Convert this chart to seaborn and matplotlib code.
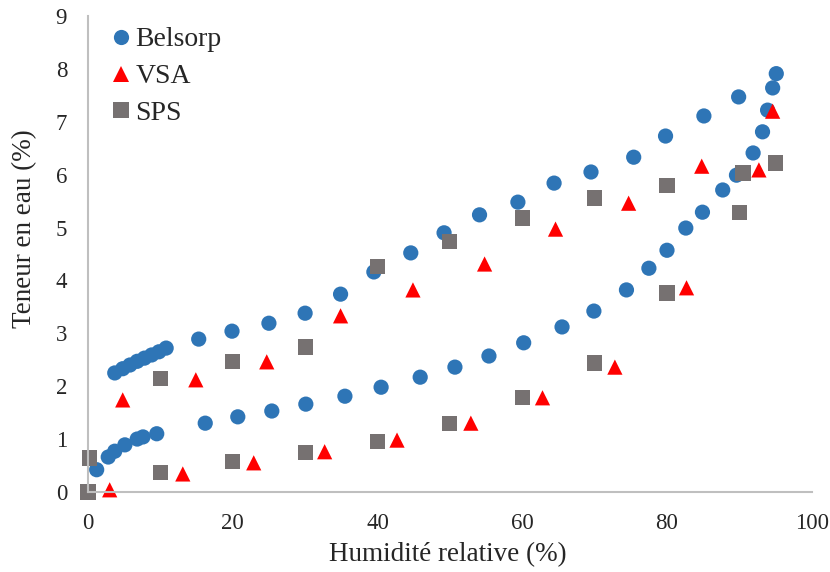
import pandas as pd
import numpy as np
from matplotlib import pyplot as plt
import seaborn as sns

# Belsorp: adsorption branch then desorption branch
belsorp_x = [1.2, 2.8, 3.7, 5.1, 6.8, 7.6, 9.5, 16.2, 20.7, 25.4, 30.1, 35.5, 40.5, 45.9,
             50.7, 55.4, 60.2, 65.5, 69.9, 74.4, 77.5, 80.0, 82.6, 84.9, 87.7, 89.6, 91.9,
             93.2, 93.9, 94.6, 95.1,
             89.9, 85.1, 79.8, 75.4, 69.5, 64.4, 59.4, 54.1, 49.2, 44.6, 39.5, 34.9, 30.0,
             25.0, 19.9, 15.3, 10.8, 9.8, 8.8, 7.8, 6.8, 5.8, 4.8, 3.7]
belsorp_y = [0.42, 0.66, 0.77, 0.89, 1.00, 1.04, 1.10, 1.30, 1.42, 1.53, 1.66, 1.81, 1.98, 2.17,
             2.36, 2.57, 2.82, 3.12, 3.42, 3.82, 4.23, 4.57, 4.99, 5.29, 5.71, 5.99, 6.41,
             6.81, 7.22, 7.64, 7.91,
             7.47, 7.11, 6.73, 6.33, 6.05, 5.84, 5.48, 5.24, 4.90, 4.52, 4.16, 3.74, 3.38,
             3.19, 3.04, 2.89, 2.72, 2.65, 2.59, 2.53, 2.47, 2.40, 2.33, 2.25]

vsa_x = [3.0, 13.1, 22.9, 32.7, 42.7, 52.9, 62.8, 72.8, 82.7, 92.7, 94.6,
         84.8, 74.7, 64.6, 54.8, 44.9, 34.9, 24.7, 14.9, 4.8]
vsa_y = [0.04, 0.34, 0.55, 0.76, 0.98, 1.30, 1.78, 2.36, 3.86, 6.09, 7.20,
         6.16, 5.46, 4.97, 4.31, 3.82, 3.33, 2.46, 2.12, 1.74]

sps_x = [0, 10, 20, 30, 40, 50, 60, 70, 80, 90, 95,
         90.5, 80, 70, 60, 50, 40, 30, 20, 10, 0.2]
sps_y = [0.0, 0.36, 0.57, 0.74, 0.95, 1.29, 1.78, 2.44, 3.76, 5.29, 6.22,
         6.03, 5.80, 5.56, 5.18, 4.74, 4.27, 2.74, 2.46, 2.15, 0.64]

methods = ['Belsorp', 'VSA', 'SPS']
colors = {'Belsorp': '#2E75B6', 'VSA': '#FF0000', 'SPS': '#767171'}
markers = {'Belsorp': 'o', 'VSA': '^', 'SPS': 's'}

df = pd.concat([
    pd.DataFrame({'hr': belsorp_x, 'teneur': belsorp_y, 'methode': 'Belsorp'}),
    pd.DataFrame({'hr': vsa_x, 'teneur': vsa_y, 'methode': 'VSA'}),
    pd.DataFrame({'hr': sps_x, 'teneur': sps_y, 'methode': 'SPS'}),
])

sns.set_style('white')
plt.rcParams['font.family'] = ['Liberation Serif', 'DejaVu Serif']

fig = plt.figure(figsize=(8.3, 5.72), dpi=100)
ax = fig.add_axes([0.106, 0.14, 0.872, 0.832])

sns.scatterplot(data=df, x='hr', y='teneur', hue='methode', style='methode',
                hue_order=methods, style_order=methods, palette=colors, markers=markers,
                s=120, linewidth=0, clip_on=False, ax=ax)

ax.set_xlim(0, 100)
ax.set_ylim(0, 9)
ax.set_xticks(range(0, 101, 20))
ax.set_yticks(range(0, 10))
ax.tick_params(length=0, labelsize=16.5)
ax.tick_params(axis='x', pad=15)
ax.tick_params(axis='y', pad=15)
for side in ['top', 'right']:
    ax.spines[side].set_visible(False)
for side in ['left', 'bottom']:
    ax.spines[side].set_color('#BFBFBF')
    ax.spines[side].set_linewidth(1.5)

ax.set_xlabel('Humidité relative (%)', fontsize=19.5)
ax.set_ylabel('Teneur en eau (%)', fontsize=19.5)
ax.xaxis.set_label_coords(0.497, -0.105)
ax.yaxis.set_label_coords(-0.07, 0.553)

leg = ax.legend(loc='upper left', frameon=False, fontsize=20, handlelength=0.8,
                handletextpad=0.12, labelspacing=0.41, borderpad=0, borderaxespad=0,
                bbox_to_anchor=(0.03, 0.977))

plt.savefig('out.png', dpi=100)
